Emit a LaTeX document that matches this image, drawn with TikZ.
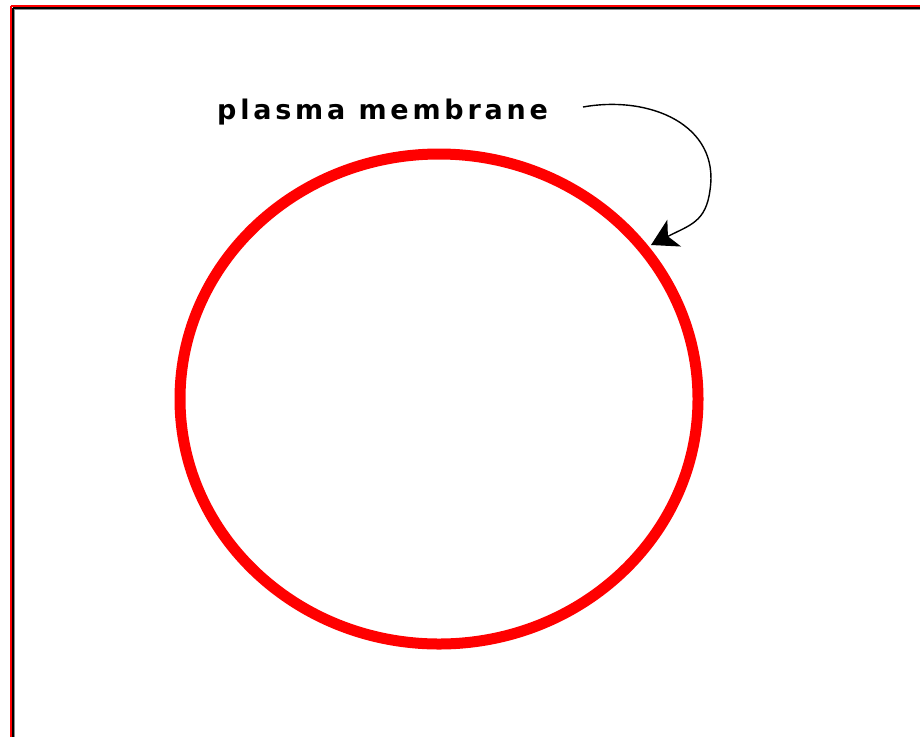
\documentclass[tikz,border=0pt]{standalone}
\usepackage{fontspec}
\newfontfamily\labelfont[LetterSpace=14]{DejaVu Sans Bold}
\usetikzlibrary{arrows.meta,positioning}
\tikzset{>=Stealth}
\tikzset{membrane/.style={draw=red, line width=11pt},
  pointer/.style={-{Stealth[length=26pt, width=30pt, inset=7pt]}, line width=1.4pt, black},
  frameline/.style={line width=#1}}

\begin{document}
\begin{tikzpicture}[x=1pt, y=-1pt]
          \useasboundingbox (0,0) rectangle (920,737);
          % window frame, top and left only
          \draw[frameline=1.6pt, red] (10.5,5.8) -- (920,5.8);
          \draw[frameline=1.6pt, red] (11,5.8) -- (11,737);
          \draw[frameline=2.2pt, black] (12.6,7.6) -- (920,7.6);
          \draw[frameline=2.2pt, black] (12.8,7.6) -- (12.8,737);
          \draw[frameline=1.4pt, black!45] (13.9,9.4) -- (920,9.4);
          \draw[frameline=1.4pt, black!45] (14.6,9.4) -- (14.6,737);
          \draw[membrane] (439,399) ellipse [x radius=259pt, y radius=245pt];
          \node[anchor=base west, inner sep=0pt, font=\labelfont\fontsize{27}{32}\selectfont] (label) at (217,119) {plasma membrane};
          \coordinate (tail) at (583,107);
          \coordinate (tip) at (651,245);
          \draw[pointer] (tail) .. controls (650,95) and (720,125) .. (710,190)
            .. controls (706,222) and (690,225) .. (tip);
        \end{tikzpicture}
\end{document}
